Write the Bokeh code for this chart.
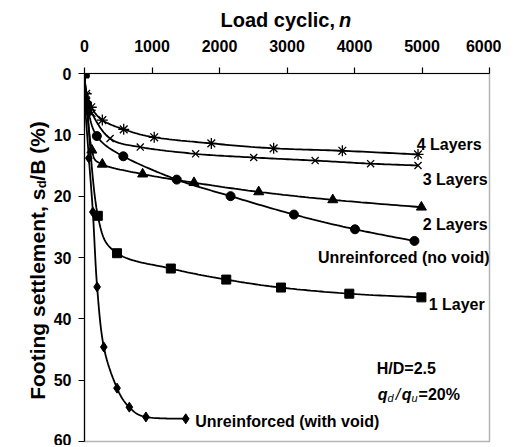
import numpy as np
from bokeh.plotting import figure
from bokeh.models import Range1d, Label, FixedTicker
from bokeh.layouts import column, row
from bokeh.embed import file_html
from bokeh.resources import INLINE

# ---------------- data ----------------
x_ticks = [0, 1000, 2000, 3000, 4000, 5000, 6000]
y_ticks = [0, 10, 20, 30, 40, 50, 60]

n_4layers = [0, 25, 100, 264, 581, 1033, 1879, 2802, 3820, 4941]
s_4layers = [0, 3.3, 5.5, 7.6, 9.1, 10.4, 11.4, 12.2, 12.6, 13.2]

n_3layers = [0, 30, 110, 379, 826, 1647, 2507, 3417, 4239, 4941]
s_3layers = [0, 3.6, 6.5, 10.6, 12.0, 13.1, 13.7, 14.2, 14.7, 15.0]

n_2layers = [0, 30, 109, 264, 861, 1622, 2581, 3678, 4991]
s_2layers = [0, 4.5, 12.5, 14.8, 16.4, 17.8, 19.3, 20.6, 21.8]

n_novoid = [0, 40, 183, 575, 1367, 2164, 3103, 4007, 4888]
s_novoid = [0, 5.0, 10.2, 13.5, 17.3, 20.0, 23.0, 25.4, 27.3]

n_1layer = [0, 40, 197, 482, 1279, 2100, 2911, 3923, 4991]
s_1layer = [0, 6.0, 23.2, 29.3, 31.8, 33.6, 34.9, 35.9, 36.5]

n_void = [0, 10, 65, 124, 187, 286, 482, 664, 910, 1500]
s_void = [0, 5.2, 13.8, 22.6, 34.8, 44.6, 51.3, 54.4, 56.0, 56.3]

labels = ["4 Layers", "3 Layers", "2 Layers", "Unreinforced (no void)",
          "1 Layer", "Unreinforced (with void)"]
x_title = ["Load cyclic,", "n"]
y_title = ["Footing settlement, s", "d", "/B (%)"]

# ---------------- layout ----------------
TOP_H = 31          # strip holding the x title
LEFT_W = 50         # strip holding the y title
MW, MH = 451, 414   # main figure
FL, FT, FW, FH = 33, 42, 406, 368
FR = MW - FL - FW
FB = MH - FT - FH
X0, X1 = 0, 6000
Y0, Y1 = 60, 0
SX = FW / (X1 - X0)
SY = FH / (Y0 - Y1)
PAGE_L = LEFT_W + FL
PAGE_T = TOP_H + FT

def px2x(px):
    return (px - PAGE_L) / SX

def px2y(py):
    return (py - PAGE_T) / SY

FONT = "Liberation Sans"
FS = 16
TSX = 20
TSY = 21

p = figure(width=MW, height=MH, output_backend="svg", toolbar_location=None,
           x_range=Range1d(X0, X1), y_range=Range1d(Y0, Y1),
           x_axis_location="above", min_border_left=FL, min_border_right=FR,
           min_border_top=FT, min_border_bottom=FB)
p.grid.visible = False
p.outline_line_color = "#b4b4b4"
p.outline_line_width = 1.5
p.background_fill_color = "white"
p.border_fill_color = "white"

for ax, ticks in ((p.xaxis[0], x_ticks), (p.yaxis[0], y_ticks)):
    ax.ticker = FixedTicker(ticks=ticks)
    ax.minor_tick_line_color = None
    ax.major_tick_in = 0
    ax.major_tick_out = 6
    ax.axis_line_color = "black"
    ax.axis_line_width = 1.2
    ax.major_tick_line_color = "black"
    ax.major_tick_line_width = 1.2
    ax.major_label_text_font = FONT
    ax.major_label_text_font_style = "bold"
    ax.major_label_text_font_size = f"{FS}px"
    ax.major_label_text_color = "black"
p.xaxis[0].major_label_standoff = 16
p.yaxis[0].major_label_standoff = 7


def smooth(xs, ys, steps=20):
    pts = np.column_stack([np.asarray(xs, float) * SX, np.asarray(ys, float) * SY])
    ext = np.vstack([pts[0], pts, pts[-1]])
    out = [pts[0]]
    t = np.linspace(0, 1, steps + 1)[1:]
    for i in range(1, len(ext) - 2):
        p0, p1, p2, p3 = ext[i - 1], ext[i], ext[i + 1], ext[i + 2]
        c1 = p1 + (p2 - p0) / 6.0
        c2 = p2 - (p3 - p1) / 6.0
        for tt in t:
            b = ((1 - tt) ** 3) * p1 + 3 * ((1 - tt) ** 2) * tt * c1 + \
                3 * (1 - tt) * tt ** 2 * c2 + tt ** 3 * p2
            out.append(b)
    out = np.array(out)
    return out[:, 0] / SX, out[:, 1] / SY


series = [
    (n_4layers, s_4layers, "asterisk", 11, 1.3),
    (n_3layers, s_3layers, "x", 10, 1.3),
    (n_2layers, s_2layers, "triangle", 10, 1),
    (n_novoid, s_novoid, "circle", 9, 1),
    (n_1layer, s_1layer, "square", 9, 1),
    (n_void, s_void, "diamond", 10, 1),
]
for xs, ys, mk, sz, lw in series:
    sx, sy = smooth(xs, ys)
    p.line(sx, sy, line_color="black", line_width=1.8)
    p.scatter(xs, ys, marker=mk, size=sz, line_color="black",
              fill_color="black", line_width=lw)


def label(fig, txt, x, y, size=FS, style="bold", align="left",
          baseline="middle", angle=0.0):
    fig.add_layout(Label(x=x, y=y, text=txt, text_font=FONT,
                         text_font_size=f"{size}px", text_font_style=style,
                         text_align=align, text_baseline=baseline,
                         text_color="black", angle=angle))

def add_text(txt, px, py, **kw):
    label(p, txt, px2x(px), px2y(py), **kw)

# series labels (page pixel positions)
add_text(labels[0], 416, 144)
add_text(labels[1], 422, 179)
add_text(labels[2], 422, 224)
add_text(labels[3], 317, 257)
add_text(labels[4], 428, 304)
add_text(labels[5], 194, 421)

# annotation
add_text("H/D=2.5", 376, 368, baseline="alphabetic")
ADV = {"q": 611, "d": 611, "/": 278, "u": 611}
SUB = 11
xq = 377
base = 394
add_text("q", xq, base, style="bold italic", baseline="alphabetic")
xq += ADV["q"] * FS / 1000
add_text("d", xq, base + 3, size=SUB, style="italic", baseline="alphabetic")
xq += ADV["d"] * SUB / 1000 + 1.5
add_text("/", xq, base, style="italic", baseline="alphabetic")
xq += ADV["/"] * FS / 1000 + 1.5
add_text("q", xq, base, style="bold italic", baseline="alphabetic")
xq += ADV["q"] * FS / 1000
add_text("u", xq, base + 3, size=SUB, style="italic", baseline="alphabetic")
xq += ADV["u"] * SUB / 1000 + 0.5
add_text("=20%", xq, base, baseline="alphabetic")

# ---------------- title strips ----------------
def strip(w, h):
    f = figure(width=w, height=h, output_backend="svg", toolbar_location=None,
               x_range=Range1d(0, w), y_range=Range1d(h, 0),
               x_axis_type=None, y_axis_type=None, min_border=0,
               min_border_left=0, min_border_right=0, min_border_top=0,
               min_border_bottom=0)
    f.grid.visible = False
    f.outline_line_color = None
    f.background_fill_color = "white"
    f.border_fill_color = "white"
    return f

top = strip(LEFT_W + MW, TOP_H)
label(top, x_title[0], 334.5, 19.5, size=TSX, align="right")
label(top, x_title[1], 338.5, 19.5, size=TSX, style="bold italic")

left = strip(LEFT_W, MH)
ang = np.pi / 2
SUBY = 13
yd = 160 - TOP_H      # where the subscript starts (strip coordinates)
xc = 37
label(left, y_title[0], xc, yd + 0.5, size=TSY, align="right", angle=ang)
label(left, y_title[1], xc + 4, yd, size=SUBY, align="left", angle=ang)
label(left, y_title[2], xc, yd - 611 * SUBY / 1000 - 0.5, size=TSY,
      align="left", angle=ang)

layout = column(top, row(left, p))
open("out.html", "w").write(file_html(layout, INLINE))
